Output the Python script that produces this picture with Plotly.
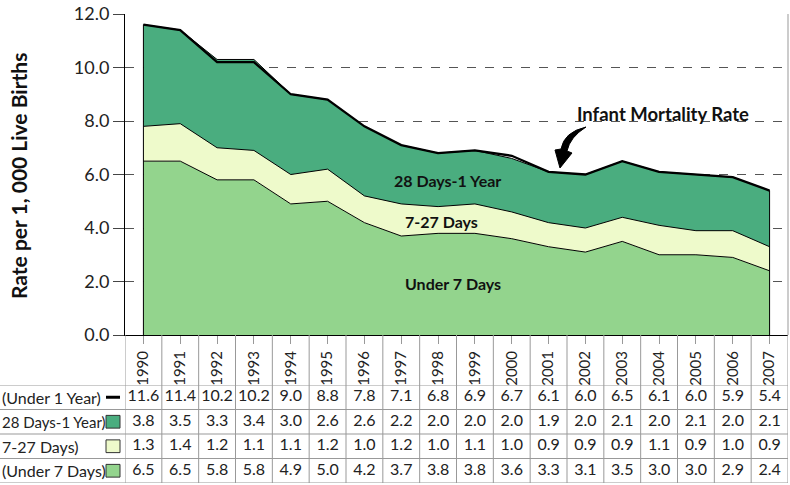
import plotly.graph_objects as go

years = list(range(1990, 2008))
total = [11.6, 11.4, 10.2, 10.2, 9.0, 8.8, 7.8, 7.1, 6.8, 6.9, 6.7, 6.1, 6.0, 6.5, 6.1, 6.0, 5.9, 5.4]
d28_1yr = [3.8, 3.5, 3.3, 3.4, 3.0, 2.6, 2.6, 2.2, 2.0, 2.0, 2.0, 1.9, 2.0, 2.1, 2.0, 2.1, 2.0, 2.1]
d7_27 = [1.3, 1.4, 1.2, 1.1, 1.1, 1.2, 1.0, 1.2, 1.0, 1.1, 1.0, 0.9, 0.9, 0.9, 1.1, 0.9, 1.0, 0.9]
under7 = [6.5, 6.5, 5.8, 5.8, 4.9, 5.0, 4.2, 3.7, 3.8, 3.8, 3.6, 3.3, 3.1, 3.5, 3.0, 3.0, 2.9, 2.4]

# the row labels are cut at the left edge in the original; only the visible part is kept
row_labels = ["(Under 1 Year)", "28 Days-1 Year)", "7-27 Days)", "(Under 7 Days)"]
label_sizes = [16, 15, 16, 16]
row_values = [total, d28_1yr, d7_27, under7]

W, H = 790, 485
FONT = "Lato"
C_28 = "#4aad7f"
C_7 = "#eefacb"
C_U7 = "#93d48d"
GRID = "#999999"


def pxx(x):
    return x / W


def pxy(y):
    return 1 - y / H


fig = go.Figure()

# stacked areas
for name, vals, col in [("Under 7 Days", under7, C_U7), ("7-27 Days", d7_27, C_7),
                        ("28 Days-1 Year", d28_1yr, C_28)]:
    fig.add_trace(go.Scatter(x=years, y=vals, name=name, stackgroup="one", mode="lines",
                             line=dict(color="black", width=1), fillcolor=col))

# total line and end edges
fig.add_trace(go.Scatter(x=years, y=total, mode="lines", line=dict(color="black", width=2.3)))
for i in (0, -1):
    fig.add_trace(go.Scatter(x=[years[i], years[i]], y=[0, total[i]], mode="lines",
                             line=dict(color="black", width=1)))

# table values
for r, vals in enumerate(row_values):
    fig.add_trace(go.Scatter(x=years, y=[r] * len(years), xaxis="x", yaxis="y2", mode="text",
                             text=[f"{v:.1f}" for v in vals], cliponaxis=False,
                             textfont=dict(family=FONT, size=16, color="#222")))

shapes = []
# table column lines
for y in years + [years[-1] + 1]:
    shapes.append(dict(type="line", xref="x", yref="paper", x0=y - 0.5, x1=y - 0.5,
                       y0=pxy(483), y1=pxy(335), line=dict(color=GRID, width=1)))
# table row lines
for r in range(len(row_values) + 1):
    shapes.append(dict(type="line", xref="paper", yref="y2", x0=0, x1=pxx(788),
                       y0=r - 0.5, y1=r - 0.5, line=dict(color=GRID, width=1)))
# right border of plot
shapes.append(dict(type="line", xref="paper", yref="paper", x0=pxx(788), x1=pxx(788),
                   y0=pxy(335), y1=pxy(14), line=dict(color=GRID, width=1)))
# legend keys
shapes.append(dict(type="line", xref="paper", yref="y2", x0=pxx(106), x1=pxx(120), y0=0, y1=0,
                   line=dict(color="black", width=3)))
for r, col in [(1, C_28), (2, C_7), (3, C_U7)]:
    shapes.append(dict(type="rect", xref="paper", yref="y2", x0=pxx(106), x1=pxx(120),
                       y0=r - 0.26, y1=r + 0.26, fillcolor=col, line=dict(color="#333", width=1)))

# curved arrow for the total line label
arrow_pts = "M {0} {1} Q {2} {3} {4} {5} L {6} {7} L {8} {9} L {10} {11} L {12} {13} Q {14} {15} {0} {1} Z"
pts = [(586, 127), (564, 132), (561, 149), (555, 150), (560, 168), (572, 153), (567, 151), (570, 137)]
coords = []
for p in pts:
    coords += [f"{pxx(p[0]):.5f}", f"{pxy(p[1]):.5f}"]
shapes.append(dict(type="path", xref="paper", yref="paper", path=arrow_pts.format(*coords),
                   fillcolor="black", line=dict(color="black", width=1)))

annotations = [
    dict(text="<b>28 Days-1 Year</b>", x=1998.25, y=5.76, xref="x", yref="y", showarrow=False,
         font=dict(family=FONT, size=16, color="#111")),
    dict(text="<b>7-27 Days</b>", x=1998.1, y=4.26, xref="x", yref="y", showarrow=False,
         font=dict(family=FONT, size=16, color="#111")),
    dict(text="<b>Under 7 Days</b>", x=1998.4, y=1.94, xref="x", yref="y", showarrow=False,
         font=dict(family=FONT, size=16, color="#111")),
    dict(text="<b>Infant Mortality Rate</b>", x=2004.1, y=8.26, xref="x", yref="y", showarrow=False,
         font=dict(family=FONT, size=18.5, color="#111")),
    dict(text="<b>Rate per 1, 000 Live Births</b>", x=pxx(18), y=pxy(176), xref="paper", yref="paper",
         xanchor="center", yanchor="middle", textangle=-90, showarrow=False,
         font=dict(family=FONT, size=21, color="#111")),
]
for r, (lab, fs) in enumerate(zip(row_labels, label_sizes)):
    annotations.append(dict(text=lab, x=0, y=r, xref="paper", yref="y2", xanchor="left",
                            showarrow=False, font=dict(family=FONT, size=fs, color="#222")))

fig.update_layout(
    width=W, height=H, margin=dict(l=0, r=0, t=0, b=0, autoexpand=False),
    paper_bgcolor="white", plot_bgcolor="white", showlegend=False,
    font=dict(family=FONT, color="#222"),
    xaxis=dict(domain=[pxx(125), pxx(788)], range=[1989.5, 2007.5], tickvals=years,
               ticktext=[str(y) for y in years], tickangle=-90, ticks="outside", ticklen=8,
               tickcolor=GRID, showline=True, linecolor="black", showgrid=False, zeroline=False,
               ticklabelstandoff=1,
               tickfont=dict(family=FONT, size=15, color="#222"), anchor="y", automargin=False),
    yaxis=dict(domain=[pxy(335), pxy(14)], range=[0, 12], dtick=2, tickformat=".1f",
               showgrid=True, griddash="dash", gridcolor="#555", gridwidth=1, ticks="outside",
               ticklen=11, tickcolor="#444", showline=True, linecolor="black", zeroline=False,
               tickfont=dict(family=FONT, size=18, color="#222"), anchor="x", automargin=False),
    yaxis2=dict(domain=[pxy(483), pxy(385)], range=[3.5, -0.5], visible=False, anchor="x",
                automargin=False),
    shapes=shapes, annotations=annotations,
)

# page body has a default 8px margin; remove it so the figure fills the window
fig.write_html("out.html", config={"displayModeBar": False},
               post_script="document.body.style.margin='0';")
